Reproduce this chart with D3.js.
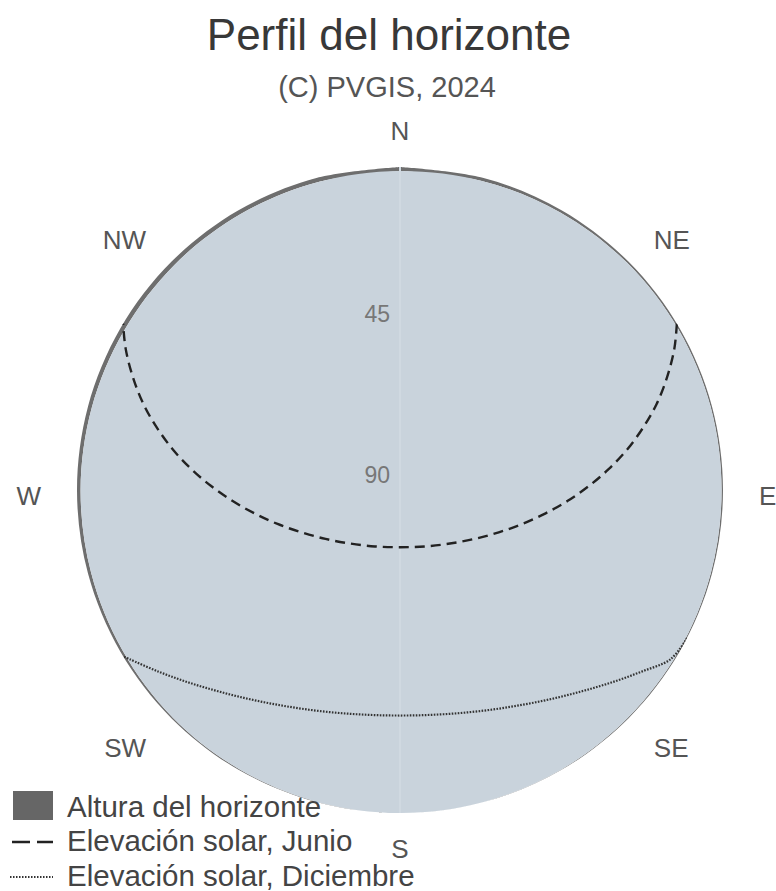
<!DOCTYPE html>
<html><head><meta charset="utf-8">
<script src="https://cdn.jsdelivr.net/npm/d3@7"></script>
<style>
body{margin:0;background:#fff}
svg{display:block;font-family:"Liberation Sans",Arial,sans-serif}
</style>
</head><body>
<svg id="chart" width="776" height="891"></svg>
<script>
// ---- data ----
const titleText = "Perfil del horizonte";
const subtitleText = "(C) PVGIS, 2024";

const horizonAz     = [0,15,30,45,60,75,90,105,120,135,150,165,180,195,210,225,240,255,270,285,300,315,330,345];
const horizonHeight = [1.1,0.9,0.7,0.5,0.45,0.4,0.4,0.35,0.3,0.25,0.1,0,0,0.1,0.25,0.4,0.7,0.9,1.0,1.1,1.2,1.2,1.2,1.2];

const juneAz = [59.0,62.7,67.1,71.5,75.7,80.0,84.3,88.8,93.7,99.1,105.5,113.2,123.3,137.0,156.1,180,
                203.9,223.0,236.7,246.8,254.5,260.9,266.3,271.2,275.7,280.0,284.3,288.5,292.9,297.3,301.0];
const juneEl = [0,3.96,9.21,14.63,20.18,25.85,31.59,37.37,43.17,48.92,54.59,60.07,65.17,69.6,72.8,74.06,
                72.8,69.6,65.17,60.07,54.59,48.92,43.17,37.37,31.59,25.85,20.18,14.63,9.21,3.96,0];

const decAz = [117.3,122.0,127.0,132.3,137.9,144.0,150.5,157.5,164.8,172.3,180,
               187.7,195.2,202.5,209.5,216.0,222.1,227.7,233.0,238.0,239.0];
const decEl = [0,1.08,5.85,10.32,14.41,18.06,21.19,23.73,25.61,26.77,27.16,
               26.77,25.61,23.73,21.19,18.06,14.41,10.32,5.85,1.08,0];

const directionLabels = ["N","NE","E","SE","S","SW","W","NW"];
const directionAz     = [0,45,90,135,180,225,270,315];
const radialTicks     = [45,90];
const legendLabels    = ["Altura del horizonte","Elevación solar, Junio","Elevación solar, Diciembre"];

// ---- layout ----
const W = 776, H = 891;
const cx = 400, cy = 490, R = 323;
const colSky = "#c9d3dc", colHorizon = "#6e6e6e";

const svg = d3.select("#chart");
const rad = d => d * Math.PI / 180;
const r = d3.scaleLinear().domain([90, 0]).range([0, R]);   // elevation -> radius
const ang = d3.scaleLinear().domain([0, 360]).range([0, 2 * Math.PI]); // azimuth -> angle

// title
svg.append("text").attr("x", 389).attr("y", 50).attr("text-anchor", "middle")
  .attr("font-size", 44).attr("fill", "#383838").text(titleText);
svg.append("text").attr("x", 387).attr("y", 97).attr("text-anchor", "middle")
  .attr("font-size", 29).attr("fill", "#555").text(subtitleText);

const g = svg.append("g").attr("transform", `translate(${cx},${cy})`);

const hor = horizonAz.map((a, i) => ({az: a, h: horizonHeight[i]}));
const horClosed = hor.concat([{az: 360, h: horizonHeight[0]}]);

// horizon band (between edge and horizon height)
const horizonArea = d3.areaRadial()
  .angle(d => ang(d.az))
  .innerRadius(d => r(d.h))
  .outerRadius(r(0))
  .curve(d3.curveCatmullRom);
g.append("path").datum(horClosed).attr("d", horizonArea).attr("fill", colHorizon);

// sky
const skyLine = d3.lineRadial()
  .angle(d => ang(d.az))
  .radius(d => r(d.h))
  .curve(d3.curveCatmullRomClosed);
g.append("path").datum(hor).attr("d", skyLine).attr("fill", colSky);

// faint radial axis line (N-S)
g.append("line").attr("x1", 0).attr("x2", 0).attr("y1", -r(0)).attr("y2", r(0))
  .attr("stroke", "#d0d9e1").attr("stroke-width", 2);

svg.append("clipPath").attr("id", "clip").append("circle")
  .attr("cx", cx).attr("cy", cy).attr("r", R);

const sunLine = d3.lineRadial()
  .angle(d => ang(d.az))
  .radius(d => r(d.el))
  .curve(d3.curveCatmullRom);

const june = juneAz.map((a, i) => ({az: a, el: juneEl[i]}));
const dec = decAz.map((a, i) => ({az: a, el: decEl[i]}));

const paths = svg.append("g").attr("clip-path", "url(#clip)")
  .append("g").attr("transform", `translate(${cx},${cy})`);
paths.append("path").datum(june).attr("d", sunLine).attr("fill", "none")
  .attr("stroke", "#222").attr("stroke-width", 2.4).attr("stroke-dasharray", "10,6");
paths.append("path").datum(dec).attr("d", sunLine).attr("fill", "none")
  .attr("stroke", "#333").attr("stroke-width", 2.2).attr("stroke-dasharray", "1.6,1.4");

// radial tick labels
g.selectAll(".rt").data(radialTicks).enter().append("text")
  .attr("x", -10).attr("y", d => -r(d) - 15)
  .attr("text-anchor", "end").attr("dominant-baseline", "central")
  .attr("font-size", 23).attr("fill", "#777").text(d => d);

// direction labels
const pad = 36;
g.selectAll(".dl").data(directionLabels).enter().append("text")
  .attr("x", (d, i) => (R + pad) * Math.sin(rad(directionAz[i])))
  .attr("y", (d, i) => -(R + pad) * Math.cos(rad(directionAz[i])) + 6 * Math.abs(Math.sin(rad(directionAz[i]))))
  .attr("text-anchor", (d, i) => {
    const s = Math.sin(rad(directionAz[i]));
    return Math.abs(s) < 0.01 ? "middle" : (s > 0 ? "start" : "end");
  })
  .attr("dominant-baseline", "central")
  .attr("font-size", 26).attr("fill", "#555").text(d => d);

// legend
const lg = svg.append("g");
const baseY = [817, 851, 886];
lg.append("rect").attr("x", 13).attr("y", 791).attr("width", 40).attr("height", 29).attr("fill", "#666");
lg.append("line").attr("x1", 12).attr("x2", 53).attr("y1", 842).attr("y2", 842)
  .attr("stroke", "#222").attr("stroke-width", 2.4).attr("stroke-dasharray", "18,7");
lg.append("line").attr("x1", 10).attr("x2", 53).attr("y1", 877).attr("y2", 877)
  .attr("stroke", "#333").attr("stroke-width", 2).attr("stroke-dasharray", "1.5,1.5");
lg.selectAll(".lt").data(legendLabels).enter().append("text")
  .attr("x", 67).attr("y", (d, i) => baseY[i])
  .attr("font-size", 29.5).attr("fill", "#444").text(d => d);
</script>
</body></html>
